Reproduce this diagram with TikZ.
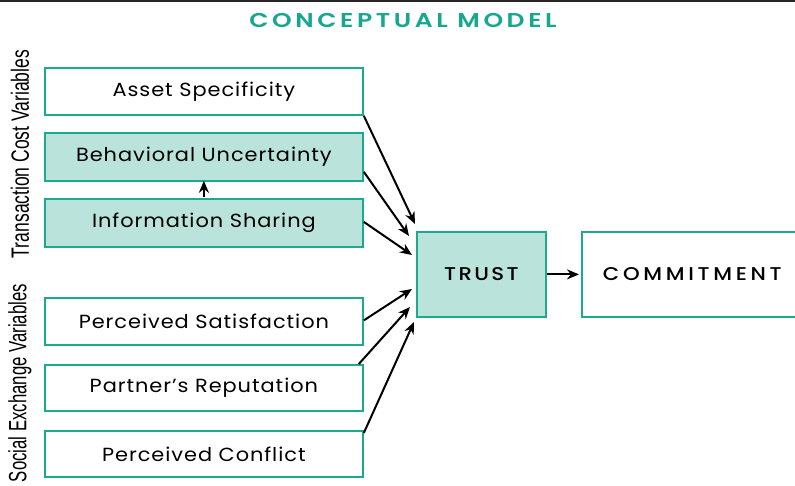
\documentclass[tikz,border=0pt]{standalone}
\usepackage{fontspec}
\setmainfont{Poppins}
\newfontfamily\boxfont[LetterSpace=5,FakeStretch=1.1]{Poppins}
\newfontfamily\trustfont[LetterSpace=13,FakeStretch=1.15]{Poppins Medium}
\newfontfamily\commitfont[LetterSpace=20,FakeStretch=1.15]{Poppins Medium}
\newfontfamily\titlefont[LetterSpace=18,FakeStretch=1.25]{Poppins SemiBold}
\newfontfamily\condfont[FakeStretch=0.70]{Liberation Sans}
\newfontfamily\condfontb[FakeStretch=0.67]{Liberation Sans}
\usetikzlibrary{arrows.meta}
\definecolor{tealline}{HTML}{1BAA8E}
\definecolor{tealfill}{HTML}{BAE3DB}
\definecolor{titleteal}{HTML}{16A78F}
\begin{document}
\begin{tikzpicture}[x=1pt,y=-1pt,
  box/.style={draw=tealline,line width=1.8pt,fill=white,inner sep=0pt,anchor=north west,font=\boxfont\fontsize{19}{21}\selectfont},
  filled/.style={fill=tealfill},
  arr/.style={line width=2pt,-{Stealth[length=12pt,width=10pt]}},
  side/.style={font=\condfont\fontsize{25}{27}\selectfont,rotate=90}]
\useasboundingbox (0,0) rectangle (795,486);
\draw[line width=3pt,black!85] (0,1) -- (795,1);
\node[font=\titlefont\fontsize{20}{22}\selectfont,text=titleteal] (title) at (403,20) {CONCEPTUAL MODEL};
\node[box,minimum width=318pt,minimum height=47pt] (as) at (44,67) {Asset Specificity};
\node[box,filled,minimum width=318pt,minimum height=48pt] (bu) at (44,132) {Behavioral Uncertainty};
\node[box,filled,minimum width=318pt,minimum height=48pt] (is) at (44,198) {Information Sharing};
\node[box,minimum width=318pt,minimum height=47pt] (ps) at (44,297) {Perceived Satisfaction};
\node[box,minimum width=318pt,minimum height=46pt] (pr) at (44,364) {Partner’s Reputation};
\node[box,minimum width=318pt,minimum height=46pt] (pc) at (44,430) {Perceived Conflict};
\node[box,filled,minimum width=129pt,minimum height=85pt,font=\trustfont\fontsize{18.5}{20}\selectfont] (trust) at (416,231) {TRUST};
\node[box,minimum width=230pt,minimum height=85pt,font=\commitfont\fontsize{18.5}{20}\selectfont,text width=230pt,align=left,inner xsep=0pt] (com) at (581,231) {\hspace{21pt}COMMITMENT};
\node[side] (tcv) at (20,154) {Transaction Cost Variables};
\node[side,font=\condfontb\fontsize{25}{27}\selectfont] (sev) at (20,383) {Social Exchange Variables};
\coordinate (t1) at (415,224);
\coordinate (t2) at (409,236);
\coordinate (t3) at (412,255);
\coordinate (t4) at (412,289);
\coordinate (t5) at (410,307);
\coordinate (t6) at (414,322);
\draw[arr] (as.south east) -- (t1);
\draw[arr] (bu.south east) ++(0,-10) coordinate (b1) (b1) -- (t2);
\draw[arr] (is.east) ++(0,-1) coordinate (b2) (b2) -- (t3);
\draw[arr] (ps.east) ++(0,-1) coordinate (b3) (b3) -- (t4);
\draw[arr] (pr.north east) ++(-5,0) coordinate (b4) (b4) -- (t5);
\draw[arr] (pc.north east) ++(0,3) coordinate (b5) (b5) -- (t6);
\draw[arr] (is.north) ++(0,-1) coordinate (b6) (b6) -- ([yshift=1pt]bu.south);
\draw[arr] (trust.east) -- ([xshift=-2pt]com.west);
\end{tikzpicture}
\end{document}
